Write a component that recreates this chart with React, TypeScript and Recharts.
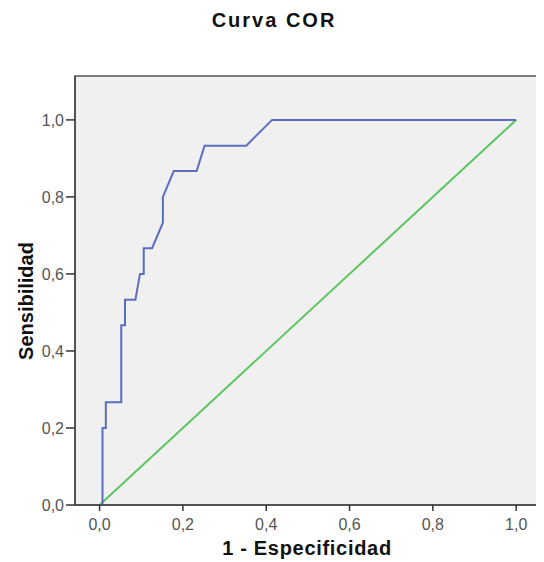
import React from 'react';
import { LineChart, Line, XAxis, YAxis, ReferenceArea } from 'recharts';

// ROC curve points (1 - specificity, sensitivity)
const fprValues = [0, 0.007, 0.007, 0.015, 0.015, 0.052, 0.052, 0.061, 0.061, 0.086, 0.097, 0.106, 0.106, 0.126, 0.152, 0.152, 0.178, 0.233, 0.252, 0.352, 0.414, 1.0];
const tprValues = [0, 0, 0.2, 0.2, 0.267, 0.267, 0.467, 0.467, 0.533, 0.533, 0.6, 0.6, 0.667, 0.667, 0.733, 0.8, 0.867, 0.867, 0.933, 0.933, 1.0, 1.0];

// reference diagonal
const refFpr = [0, 1];
const refTpr = [0, 1];

const tickValues = [0, 0.2, 0.4, 0.6, 0.8, 1.0];

const rocData = fprValues.map((x, i) => ({ fpr: x, tpr: tprValues[i] }));
const refData = refFpr.map((x, i) => ({ fpr: x, tpr: refTpr[i] }));

const FONT = '"Liberation Sans", Arial, sans-serif';
const fmt = (v: number) => v.toFixed(1).replace('.', ',');

const App = () => {
  return (
    <div style={{ position: 'relative', width: 544, height: 562, marginTop: -8, marginLeft: -8, fontFamily: FONT }}>
      <div
        style={{
          position: 'absolute',
          left: 0,
          width: 544,
          top: 10,
          lineHeight: '20px',
          fontSize: 20,
          fontWeight: 'bold',
          letterSpacing: 2,
          textAlign: 'center',
          color: '#111',
          paddingLeft: 2,
        }}
      >
        Curva COR
      </div>
      <LineChart width={544} height={562} margin={{ top: 76, right: 7, left: 0, bottom: 0 }}>
        <XAxis
          dataKey="fpr"
          type="number"
          domain={[-0.059, 1.05]}
          ticks={tickValues}
          tickFormatter={fmt}
          height={57}
          tickSize={6}
          tickMargin={8}
          axisLine={{ stroke: '#444', strokeWidth: 1.5 }}
          tickLine={{ stroke: '#333', strokeWidth: 1.5 }}
          tick={{ fill: '#555', fontSize: 16, fontFamily: FONT }}
          allowDataOverflow
          label={{
            content: () => (
              <text x={307} y={555} textAnchor="middle" fontFamily={FONT} fontSize={20} fontWeight="bold" letterSpacing={0.7} fill="#111">
                1 - Especificidad
              </text>
            ),
          }}
        />
        <YAxis
          dataKey="tpr"
          type="number"
          domain={[0, 1.114]}
          ticks={tickValues}
          tickFormatter={fmt}
          width={75}
          tickSize={9}
          tickMargin={2}
          axisLine={{ stroke: '#444', strokeWidth: 1.5 }}
          tickLine={{ stroke: '#333', strokeWidth: 1.5 }}
          tick={{ fill: '#555', fontSize: 16, fontFamily: FONT }}
          allowDataOverflow
          label={{
            content: () => (
              <text x={33} y={301} transform="rotate(-90, 33, 301)" textAnchor="middle" fontFamily={FONT} fontSize={20} fontWeight="bold" fill="#111">
                Sensibilidad
              </text>
            ),
          }}
        />
        <ReferenceArea x1={-0.059} x2={1.05} y1={0} y2={1.114} fill="#f0f0f0" fillOpacity={1} stroke="#555" strokeWidth={1.5} ifOverflow="visible" />
        <Line data={refData} dataKey="tpr" type="linear" stroke="#5cc560" strokeWidth={2} dot={false} isAnimationActive={false} />
        <Line data={rocData} dataKey="tpr" type="linear" stroke="#5a6ec2" strokeWidth={2} dot={false} isAnimationActive={false} />
      </LineChart>
    </div>
  );
};

export default App;
